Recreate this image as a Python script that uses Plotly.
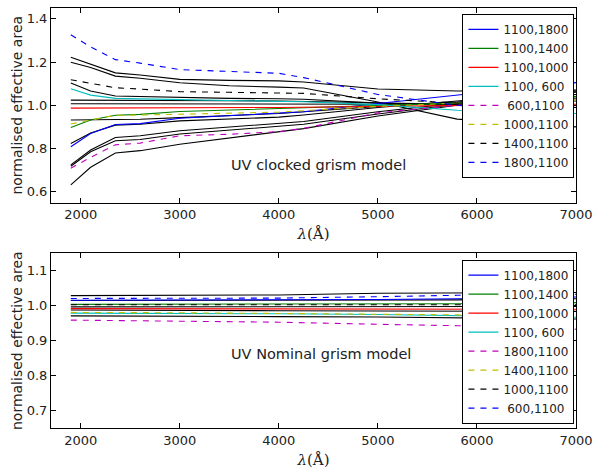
import plotly.graph_objects as go
from plotly.subplots import make_subplots

# ---------------- data: top panel (UV clocked grism model) ----------------
lam_top = [1900, 2100, 2350, 2600, 3000, 3500, 4000, 4250, 5000, 5800, 7000]

top_labels = ["1100,1800", "1100,1400", "1100,1000", "1100, 600",
              " 600,1100", "1000,1100", "1400,1100", "1800,1100"]
top_1100_1800 = [0.808, 0.869, 0.911, 0.915, 0.940, 0.952, 0.962, 0.970, 1.008, 1.046, 1.105]
top_1100_1400 = [0.897, 0.932, 0.954, 0.958, 0.971, 0.978, 0.984, 0.988, 1.000, 1.010, 1.040]
top_1100_1000 = [0.987, 0.987, 0.987, 0.987, 0.988, 0.989, 0.990, 0.991, 0.995, 1.000, 1.005]
top_1100_0600 = [1.076, 1.047, 1.032, 1.030, 1.028, 1.025, 1.020, 1.016, 1.003, 0.977, 0.962]
top_0600_1100 = [0.709, 0.759, 0.817, 0.825, 0.859, 0.866, 0.878, 0.893, 0.965, 1.000, 1.015]
top_1000_1100 = [0.913, 0.931, 0.954, 0.955, 0.959, 0.963, 0.968, 0.975, 0.995, 1.010, 1.025]
top_1400_1100 = [1.118, 1.100, 1.081, 1.075, 1.063, 1.060, 1.057, 1.055, 1.030, 1.010, 0.990]
top_1800_1100 = [1.326, 1.270, 1.211, 1.195, 1.165, 1.155, 1.148, 1.128, 1.050, 1.000, 0.945]

# unlabeled black model curves (top)
top_black = [
    [1.222, 1.190, 1.150, 1.140, 1.120, 1.115, 1.113, 1.108, 1.075, 1.066, 1.070],
    [1.199, 1.175, 1.135, 1.125, 1.104, 1.090, 1.084, 1.080, 1.015, 0.936, 0.900],
    [1.103, 1.066, 1.043, 1.040, 1.035, 1.032, 1.030, 1.028, 1.010, 1.000, 1.000],
    [1.024, 1.024, 1.024, 1.023, 1.022, 1.021, 1.020, 1.018, 1.010, 1.005, 1.020],
    [1.007, 1.007, 1.007, 1.007, 1.007, 1.007, 1.006, 1.006, 1.005, 1.010, 1.050],
    [0.932, 0.932, 0.933, 0.935, 0.943, 0.952, 0.962, 0.970, 0.995, 1.015, 1.060],
    [0.823, 0.872, 0.908, 0.912, 0.928, 0.935, 0.945, 0.955, 0.990, 1.020, 1.065],
    [0.724, 0.793, 0.851, 0.859, 0.882, 0.900, 0.915, 0.925, 0.970, 1.010, 1.050],
    [0.718, 0.785, 0.836, 0.842, 0.867, 0.885, 0.900, 0.912, 0.960, 1.005, 1.040],
    [0.632, 0.713, 0.779, 0.790, 0.820, 0.850, 0.878, 0.892, 0.950, 1.000, 1.030],
]

# ---------------- data: bottom panel (UV Nominal grism model) ----------------
lam_bot = [1900, 2350, 3000, 4000, 5000, 5800, 7000]

bot_labels = ["1100,1800", "1100,1400", "1100,1000", "1100, 600",
              "1800,1100", "1400,1100", "1000,1100", " 600,1100"]
bot_1100_1800 = [1.016, 1.016, 1.016, 1.017, 1.018, 1.020, 1.025]
bot_1100_1400 = [1.004, 1.004, 1.004, 1.005, 1.005, 1.006, 1.009]
bot_1100_1000 = [0.992, 0.992, 0.992, 0.992, 0.991, 0.991, 0.990]
bot_1100_0600 = [0.979, 0.979, 0.978, 0.977, 0.975, 0.972, 0.967]
bot_1800_1100 = [0.959, 0.958, 0.957, 0.953, 0.947, 0.943, 0.933]
bot_1400_1100 = [0.981, 0.981, 0.980, 0.978, 0.976, 0.974, 0.968]
bot_1000_1100 = [1.003, 1.003, 1.003, 1.003, 1.003, 1.003, 1.003]
bot_0600_1100 = [1.021, 1.021, 1.021, 1.022, 1.026, 1.030, 1.033]

bot_black = [
    [1.029, 1.029, 1.030, 1.031, 1.036, 1.036, 1.038],
    [1.015, 1.015, 1.015, 1.015, 1.016, 1.017, 1.020],
    [0.997, 0.997, 0.997, 0.997, 0.997, 0.997, 0.998],
    [0.988, 0.988, 0.987, 0.986, 0.985, 0.985, 0.984],
    [0.971, 0.971, 0.970, 0.969, 0.968, 0.966, 0.962],
]

x_ticks = [2000, 3000, 4000, 5000, 6000, 7000]
top_yticks = [0.6, 0.8, 1.0, 1.2, 1.4]
bot_yticks = [0.7, 0.8, 0.9, 1.0, 1.1]

# ---------------- styles ----------------
colors = ["#0000ff", "#008000", "#ff0000", "#00bfbf", "#bf00bf", "#bfbf00", "#000000", "#0000ff"]
dashes = ["solid", "solid", "solid", "solid", "6px,6px", "6px,6px", "6px,6px", "6px,6px"]

FONT = "DejaVu Sans"
fig = make_subplots(rows=2, cols=1, vertical_spacing=0.0)

for ys in top_black:
    fig.add_trace(go.Scatter(x=lam_top, y=ys, mode="lines", showlegend=False,
                             line=dict(color="black", width=1.1), hoverinfo="skip"), row=1, col=1)
top_series = [top_1100_1800, top_1100_1400, top_1100_1000, top_1100_0600,
              top_0600_1100, top_1000_1100, top_1400_1100, top_1800_1100]
for lab, ys, c, d in zip(top_labels, top_series, colors, dashes):
    fig.add_trace(go.Scatter(x=lam_top, y=ys, mode="lines", name=lab, legend="legend",
                             line=dict(color=c, width=1.1, dash=d)), row=1, col=1)

for ys in bot_black:
    fig.add_trace(go.Scatter(x=lam_bot, y=ys, mode="lines", showlegend=False,
                             line=dict(color="black", width=1.1), hoverinfo="skip"), row=2, col=1)
bot_series = [bot_1100_1800, bot_1100_1400, bot_1100_1000, bot_1100_0600,
              bot_1800_1100, bot_1400_1100, bot_1000_1100, bot_0600_1100]
for lab, ys, c, d in zip(bot_labels, bot_series, colors, dashes):
    fig.add_trace(go.Scatter(x=lam_bot, y=ys, mode="lines", name=lab, legend="legend2",
                             line=dict(color=c, width=1.1, dash=d)), row=2, col=1)

axis_common = dict(showline=True, linecolor="black", linewidth=1, mirror="ticks",
                   ticks="inside", ticklen=5, tickcolor="black", tickwidth=1,
                   showgrid=False, zeroline=False, ticklabeloverflow="allow",
                   tickfont=dict(family=FONT, size=13, color="#222"))

xtitle = dict(text="<i>λ</i>(Å)", font=dict(family="DejaVu Serif", size=15, color="#222"), standoff=7)
fig.update_xaxes(range=[1700, 7000], tickvals=x_ticks, title=xtitle, **axis_common)
fig.update_yaxes(title=dict(text="normalised effective area", font=dict(family=FONT, size=14, color="#222"), standoff=0),
                 automargin=True, **axis_common)
fig.update_yaxes(range=[0.55, 1.45], tickvals=top_yticks, tickformat=".1f", row=1, col=1)
fig.update_yaxes(range=[0.65, 1.15], tickvals=bot_yticks, tickformat=".1f", row=2, col=1)

fig.update_layout(
    width=600, height=473,
    margin=dict(l=51, r=16, t=7, b=45),
    paper_bgcolor="white", plot_bgcolor="white",
    font=dict(family=FONT, color="#222"),
    yaxis=dict(domain=[0.5368, 1.0]),
    yaxis2=dict(domain=[0.0, 0.4157]),
    legend=dict(x=0.997, xanchor="right", y=0.986, yanchor="top",
                bgcolor="white", bordercolor="black", borderwidth=1,
                font=dict(family=FONT, size=12, color="#222"), tracegroupgap=0),
    legend2=dict(x=0.997, xanchor="right", y=0.401, yanchor="top",
                 bgcolor="white", bordercolor="black", borderwidth=1,
                 font=dict(family=FONT, size=12, color="#222"), tracegroupgap=0),
    annotations=[
        dict(text="UV clocked grism model", x=3497, y=0.724, xref="x", yref="y",
             xanchor="left", yanchor="middle", showarrow=False,
             font=dict(family=FONT, size=14.5, color="#222")),
        dict(text="UV Nominal grism model", x=3497, y=0.863, xref="x2", yref="y2",
             xanchor="left", yanchor="middle", showarrow=False,
             font=dict(family=FONT, size=14.5, color="#222")),
    ],
    showlegend=True,
)

fig.write_html("out.html", config={"displayModeBar": False},
               post_script="document.body.style.margin='0';")
